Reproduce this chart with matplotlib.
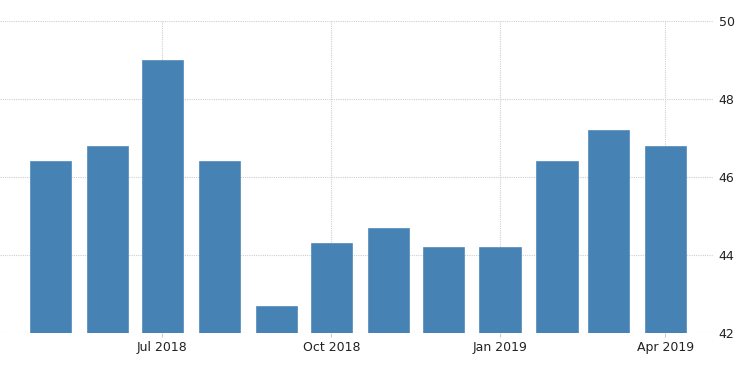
import matplotlib
matplotlib.use("Agg")
import matplotlib.pyplot as plt
import datetime as dt

months = ["2018-05", "2018-06", "2018-07", "2018-08", "2018-09", "2018-10",
          "2018-11", "2018-12", "2019-01", "2019-02", "2019-03", "2019-04"]
values = [46.4, 46.8, 49.0, 46.4, 42.7, 44.3, 44.7, 44.2, 44.2, 46.4, 47.2, 46.8]
tick_dates = ["2018-07", "2018-10", "2019-01", "2019-04"]
tick_labels = ["Jul 2018", "Oct 2018", "Jan 2019", "Apr 2019"]
y_ticks = [42, 44, 46, 48, 50]

def to_date(s):
    y, m = s.split("-")
    return dt.datetime(int(y), int(m), 1)

x = [to_date(m) for m in months]
xt = [to_date(m) for m in tick_dates]

fig = plt.figure(figsize=(7.5, 3.73), dpi=100)
ax = fig.add_axes([0.0, 0.1072, 0.9507, 0.8365])

ax.bar(x, values, width=22.5, color="#4682B4", edgecolor="#4f89bb", linewidth=0.5, zorder=3)

ax.set_ylim(42, 50)
ax.set_xlim(dt.datetime(2018, 4, 3, 12), dt.datetime(2019, 4, 27))
ax.set_yticks(y_ticks)
ax.set_yticklabels([str(v) for v in y_ticks])
ax.yaxis.tick_right()
ax.set_xticks(xt)
ax.set_xticklabels(tick_labels)

for s in ax.spines.values():
    s.set_visible(False)

ax.grid(True, axis="both", linestyle=(0, (1, 1)), color="#cfcfcf", linewidth=0.8, zorder=0)
ax.tick_params(axis="y", length=0, pad=4, labelsize=9, labelcolor="#222222")
ax.tick_params(axis="x", length=3, width=0.8, color="#cccccc", pad=3, labelsize=9, labelcolor="#222222")

fig.savefig("out.png", dpi=100)
